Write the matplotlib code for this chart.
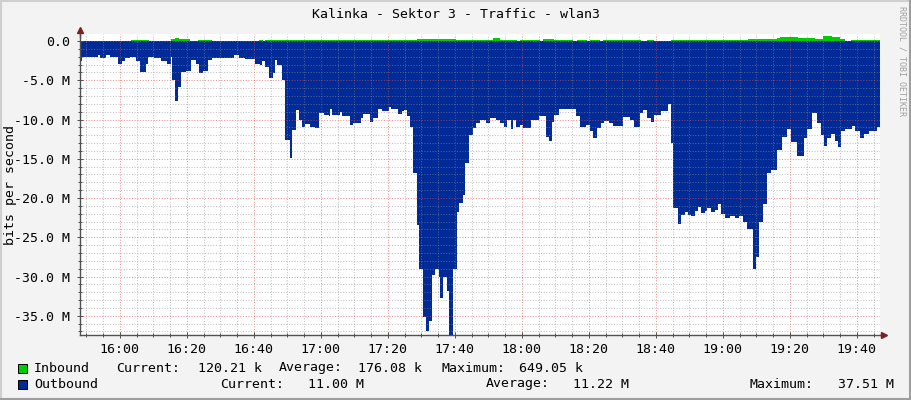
import numpy as np
import matplotlib
matplotlib.use('Agg')
import matplotlib.pyplot as plt
from matplotlib import transforms
from matplotlib.lines import Line2D
from matplotlib.patches import Rectangle

plt.rcParams['font.family'] = 'DejaVu Sans Mono'

# time in minutes relative to 16:00, traffic in Mbit/s (step values)
start_minute = -11.9
end_minute = 226.9

out_minutes = [
    -11.9, -11.3, -6.6, -6.0, -4.2, -3.0, -0.6, 0.6, 1.5, 3.0, 4.8, 6.0, 7.8, 8.4,
    10.1, 12.2, 14.0, 15.2, 15.5, 16.4, 17.3, 18.2, 19.7, 21.2, 22.7, 23.6, 24.8,
    26.3, 27.5, 28.4, 34.0, 35.5, 37.3, 40.3, 41.8, 42.4, 43.3, 44.5, 45.7, 46.3,
    46.9, 48.4, 49.3, 50.7, 51.3, 52.5, 53.4, 54.3, 55.2, 56.7, 58.2, 59.4, 60.9,
    62.4, 62.7, 63.3, 65.7, 66.3, 67.5, 68.7, 69.6, 71.9, 72.5, 74.6, 75.5, 77.0,
    78.2, 80.3, 80.9, 83.0, 84.2, 84.8, 85.7, 86.6, 87.5, 88.7, 89.3, 90.4, 91.3,
    92.2, 93.1, 94.0, 95.2, 95.5, 96.4, 97.6, 98.2, 99.4, 100.6, 101.2, 102.4,
    103.0, 104.2, 105.4, 106.3, 107.5, 109.3, 110.4, 112.2, 113.4, 114.6, 115.5,
    116.7, 117.3, 118.2, 119.4, 120.3, 122.7, 123.6, 125.1, 127.2, 128.1, 129.0,
    129.6, 131.0, 136.1, 137.3, 139.1, 140.3, 141.2, 142.4, 143.6, 144.5, 146.0,
    147.2, 150.1, 152.2, 153.4, 155.2, 156.1, 157.3, 158.5, 159.4, 161.5, 163.6,
    164.5, 165.1, 166.6, 167.5, 168.7, 169.6, 170.4, 171.6, 172.5, 173.4, 174.6,
    175.2, 176.4, 177.6, 178.5, 179.4, 180.6, 182.1, 183.6, 184.8, 186.0, 187.2,
    189.0, 189.9, 190.7, 191.9, 193.1, 194.3, 196.1, 197.6, 199.1, 200.3, 202.1,
    204.2, 205.1, 206.6, 208.1, 209.3, 210.1, 211.0, 212.2, 213.4, 214.3, 215.2,
    216.4, 218.5, 219.4, 220.9, 222.1, 223.6, 226.0,
]
out_mbps = [
    2.6, 2.0, 1.8, 2.1, 1.8, 2.0, 2.9, 2.6, 2.2, 2.0, 2.6, 4.0, 2.9, 2.0,
    2.2, 2.6, 2.9, 2.0, 5.0, 7.7, 5.8, 3.9, 3.8, 2.4, 2.9, 4.1, 3.8,
    2.4, 2.2, 2.1, 1.8, 2.2, 2.3, 2.9, 3.0, 2.5, 3.3, 4.7, 4.1, 2.4,
    3.0, 5.0, 12.6, 14.9, 11.3, 8.8, 10.1, 10.9, 10.6, 10.9, 11.1, 9.2, 9.4,
    9.5, 8.7, 9.4, 9.0, 9.5, 9.6, 10.7, 10.5, 9.8, 9.3, 10.3, 9.8, 8.7,
    8.9, 8.4, 8.6, 9.3, 8.9, 8.8, 9.6, 10.9, 16.8, 23.4, 29.1, 35.1, 37.0,
    35.7, 29.8, 29.1, 30.0, 32.7, 30.1, 31.9, 37.5, 29.1, 21.8, 20.6, 19.6,
    15.5, 12.0, 11.1, 10.5, 10.1, 10.4, 9.8, 10.1, 10.5, 11.0, 10.1,
    11.2, 10.1, 11.0, 10.7, 11.1, 10.0, 10.1, 9.6, 12.2, 12.7, 10.3,
    9.4, 8.7, 9.5, 11.0, 10.7, 11.5, 12.4, 11.1, 10.4, 10.2, 10.5,
    10.8, 9.7, 10.0, 11.0, 9.2, 8.8, 9.8, 10.3, 9.4, 8.9, 8.0,
    13.0, 21.3, 23.3, 22.1, 21.8, 22.2, 22.3, 21.7, 21.1, 21.9, 21.6,
    21.3, 21.8, 21.5, 20.8, 22.0, 22.5, 22.3, 22.6, 22.3, 23.0, 24.0,
    29.1, 27.5, 23.0, 20.8, 16.8, 16.4, 13.9, 12.2, 11.2, 12.8, 14.7,
    12.3, 11.2, 9.2, 10.5, 12.0, 13.4, 12.3, 11.9, 12.7, 13.5, 11.4,
    11.2, 10.8, 11.4, 12.3, 11.8, 11.4, 11.0,
]

in_minutes = [
    -11.9, 3.3, 8.7, 15.2, 16.4, 17.6, 20.9, 23.3, 27.5, 41.5, 42.7, 43.3,
    88.7, 100.3, 111.3, 113.4, 118.5, 119.4, 125.4, 126.3, 129.6, 135.2,
    136.4, 139.4, 140.3, 143.3, 144.2, 155.5, 157.3, 159.4, 164.5, 187.5,
    193.4, 196.1, 197.0, 202.4, 204.5, 207.5, 209.9, 212.5, 214.9, 216.4, 218.2,
]
in_mbps = [
    0.03, 0.15, 0.03, 0.2, 0.4, 0.2, 0.03, 0.15, 0.03, 0.12, 0.03, 0.15,
    0.25, 0.15, 0.4, 0.15, 0.03, 0.15, 0.03, 0.2, 0.15, 0.03,
    0.15, 0.03, 0.15, 0.03, 0.15, 0.03, 0.15, 0.03, 0.15, 0.2,
    0.3, 0.45, 0.55, 0.35, 0.4, 0.25, 0.64, 0.5, 0.2, 0.03, 0.12,
]

tick_minutes = [0, 20, 40, 60, 80, 100, 120, 140, 160, 180, 200, 220]
tick_labels = ['16:00', '16:20', '16:40', '17:00', '17:20', '17:40',
               '18:00', '18:20', '18:40', '19:00', '19:20', '19:40']
ytick_values = [0, -5, -10, -15, -20, -25, -30, -35]
ytick_labels = ['0.0', '-5.0 M', '-10.0 M', '-15.0 M', '-20.0 M',
                '-25.0 M', '-30.0 M', '-35.0 M']

inbound_stats = ['120.21 k', '176.08 k', '649.05 k']
outbound_stats = ['11.00 M', '11.22 M', '37.51 M']

IN_COLOR = '#00CC00'
OUT_COLOR = '#002A97'
W, H = 911, 400

fig = plt.figure(figsize=(W / 100, H / 100), dpi=100, facecolor='#F3F3F3')
ax = fig.add_axes([80 / W, 65 / H, 800 / W, 301 / H])
ax.set_facecolor('white')

t = np.append(out_minutes, end_minute)
v = -np.append(out_mbps, out_mbps[-1])
ax.fill_between(t, v, 0, step='post', color=OUT_COLOR, lw=0, zorder=1)

ti = np.append(in_minutes, end_minute)
vi = np.append(in_mbps, in_mbps[-1])
ax.fill_between(ti, 0, vi, step='post', color=IN_COLOR, lw=0, zorder=1)

ax.set_xlim(start_minute, end_minute)
ax.set_ylim(-37.45, 0.9)

ax.set_xticks(tick_minutes)
ax.set_xticklabels(tick_labels)
ax.set_xticks(np.arange(-10, 226, 5), minor=True)
ax.set_yticks(ytick_values)
ax.set_yticklabels(ytick_labels)
ax.set_yticks(np.arange(-37, 1, 1), minor=True)

ax.set_axisbelow(False)
ax.grid(which='minor', color='#8F8F8F', alpha=0.55, linestyle=(0, (1, 1.6)), lw=0.75)
ax.grid(which='major', color='#DE4F4F', alpha=0.6, linestyle=(0, (1, 1.6)), lw=0.75)

for s in ['top', 'right']:
    ax.spines[s].set_visible(False)
for s in ['left', 'bottom']:
    ax.spines[s].set_color('#505050')
    ax.spines[s].set_linewidth(1.0)
    ax.spines[s].set_zorder(5)

ax.tick_params(which='both', direction='inout', color='#505050', width=0.7,
               labelsize=9.5, colors='#505050', labelcolor='black')
ax.tick_params(which='major', length=4)
ax.tick_params(which='minor', length=3)
ax.tick_params(axis='y', pad=5)
ax.tick_params(axis='x', pad=4)

# axis arrows
up = transforms.offset_copy(ax.transAxes, fig=fig, x=0, y=4, units='dots')
ax.add_line(Line2D([0, 0], [1, 1], transform=ax.transAxes, color='#505050'))
ax.add_line(Line2D([0, 0], [0.99, 1.0], transform=ax.transAxes, color='#505050', lw=1, clip_on=False))
ax.plot([0], [1], marker='^', color='#801F1F', markersize=5, transform=up, clip_on=False, zorder=6)
right = transforms.offset_copy(ax.transAxes, fig=fig, x=4, y=0, units='dots')
ax.add_line(Line2D([1.0, 1.005], [0, 0], transform=ax.transAxes, color='#505050', lw=1, clip_on=False))
ax.plot([1], [0], marker='>', color='#801F1F', markersize=5, transform=right, clip_on=False, zorder=6)

fs = 9.5
fig.text(0.5, 1 - 15 / H, 'Kalinka - Sektor 3 - Traffic - wlan3', ha='center', va='center', fontsize=fs)
fig.text(11 / W, 1 - 185 / H, 'bits per second', rotation=90, ha='center', va='center', fontsize=fs)
fig.text(902 / W, 1 - 6 / H, 'RRDTOOL / TOBI OETIKER', rotation=270, ha='center', va='top',
         fontsize=6, color='#A0A0A0')

# legend
rows = [
    (368, IN_COLOR, 'Inbound', inbound_stats, [116, 198, 279, 358, 441, 519]),
    (384, OUT_COLOR, 'Outbound', outbound_stats, [220, 308, 486, 573, 750, 838]),
]
for y, col, name, stats, xs in rows:
    fy = 1 - y / H
    fig.add_artist(Rectangle((18 / W, 1 - (y + 5) / H), 9 / W, 9 / H, transform=fig.transFigure,
                             facecolor=col, edgecolor='black', lw=0.7))
    fig.text(34 / W, fy, name, ha='left', va='center', fontsize=fs)
    labels = ['Current:', stats[0], 'Average:', stats[1], 'Maximum:', stats[2]]
    for x, txt in zip(xs, labels):
        fig.text(x / W, fy, txt, ha='left', va='center', fontsize=fs)

# 3d frame around the image
fig.add_artist(Line2D([0, 1], [1 - 1 / H, 1 - 1 / H], transform=fig.transFigure, color='#CFCFCF', lw=1.5))
fig.add_artist(Line2D([1 / W, 1 / W], [0, 1], transform=fig.transFigure, color='#CFCFCF', lw=1.5))
fig.add_artist(Line2D([0, 1], [1 / H, 1 / H], transform=fig.transFigure, color='#9E9E9E', lw=1.5))
fig.add_artist(Line2D([1 - 1 / W, 1 - 1 / W], [0, 1], transform=fig.transFigure, color='#9E9E9E', lw=1.5))

fig.savefig('out.png', dpi=100, facecolor=fig.get_facecolor())
